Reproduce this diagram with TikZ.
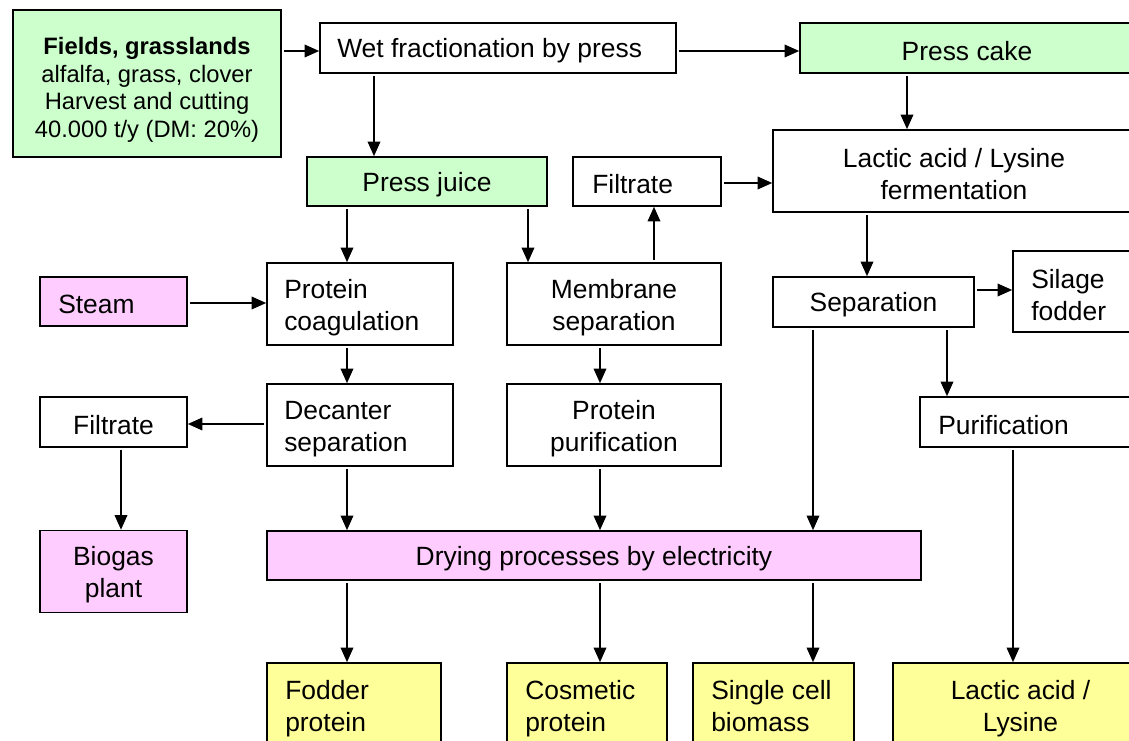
\documentclass[tikz,border=0pt]{standalone}
\usepackage{fontspec}
\setmainfont{Liberation Sans}
\usetikzlibrary{arrows.meta}
\definecolor{gr}{HTML}{CCFFCC}
\definecolor{pk}{HTML}{FFCCFF}
\definecolor{yl}{HTML}{FFFF99}
\newcommand{\mainsz}{\fontsize{19.8pt}{23.8pt}\selectfont}
\newcommand{\fieldsz}{\fontsize{17.8pt}{20.8pt}\selectfont}
\tikzset{
  bx/.style={draw=black, line width=1.2pt, rectangle, inner sep=0pt},
  tc/.style={inner sep=0pt, font=\mainsz, align=center, yshift=-2.25pt},
  tl/.style={inner sep=0pt, font=\mainsz, align=left, anchor=west, yshift=-2.25pt},
  arr/.style={line width=1.2pt, -{Triangle[length=11pt,width=9.5pt]}, shorten <=2pt},
}
\begin{document}
\begin{tikzpicture}[x=0.75pt,y=-0.75pt]
\useasboundingbox (0,0) rectangle (1129,741);
\fill[white] (0,0) rectangle (1129,741);
\clip (0,0) rectangle (1129,741);
% columns and rows
\foreach \c in {121,347,374,528,600,654,813,867,907,947,1013}{\coordinate (x\c) at (\c,0);}
\foreach \r in {51,183,290,303,424}{\coordinate (y\r) at (0,\r);}
% boxes
\node[bx, fill=gr, minimum width=201pt, minimum height=110.25pt] (fields) at (147,83.5) {};
\node[bx, fill=white, minimum width=267pt, minimum height=37.5pt] (wet) at (498,48) {};
\node[bx, fill=gr, minimum width=250.5pt, minimum height=37.5pt] (cake) at (967,48) {};
\node[bx, fill=gr, minimum width=180pt, minimum height=36.75pt] (juice) at (427,181.5) {};
\node[bx, fill=white, minimum width=111pt, minimum height=36.75pt] (filt1) at (647,181.5) {};
\node[bx, fill=white, minimum width=271.5pt, minimum height=61.5pt] (ferm) at (954,171) {};
\node[bx, fill=pk, minimum width=110.25pt, minimum height=36.75pt] (steam) at (113.5,301.5) {};
\node[bx, fill=white, minimum width=139.5pt, minimum height=61.5pt] (coag) at (360,304) {};
\node[bx, fill=white, minimum width=160.5pt, minimum height=61.5pt] (memb) at (614,304) {};
\node[bx, fill=white, minimum width=150.75pt, minimum height=37.5pt] (sep) at (873.5,302) {};
\node[bx, fill=white, minimum width=97.5pt, minimum height=60.75pt] (silage) at (1078,291.5) {};
\node[bx, fill=white, minimum width=110.25pt, minimum height=37.5pt] (filt2) at (113.5,422) {};
\node[bx, fill=white, minimum width=139.5pt, minimum height=61.5pt] (dec) at (360,425) {};
\node[bx, fill=white, minimum width=160.5pt, minimum height=61.5pt] (ppur) at (614,425) {};
\node[bx, fill=white, minimum width=165pt, minimum height=37.5pt] (pur) at (1030,422) {};
\node[bx, fill=pk, minimum width=110.25pt, minimum height=61.5pt] (biogas) at (113.5,571.5) {};
\node[bx, fill=pk, minimum width=490.5pt, minimum height=36.75pt] (dry) at (594,555.5) {};
\node[bx, fill=yl, minimum width=130.5pt, minimum height=61.5pt] (fodder) at (354,704) {};
\node[bx, fill=yl, minimum width=120pt, minimum height=61.5pt] (cosm) at (587,704) {};
\node[bx, fill=yl, minimum width=120.75pt, minimum height=61.5pt] (single) at (773.5,704) {};
\node[bx, fill=yl, minimum width=191.25pt, minimum height=61.5pt] (lactic) at (1020.5,704) {};
% texts
\node[tc, font=\fieldsz] (t-fields) at (147,87) {\textbf{Fields, grasslands}\\alfalfa, grass, clover\\Harvest and cutting\\40.000 t/y (DM: 20\%)};
\node[tl] (t-wet) at (337,48) {Wet fractionation by press};
\node[tc] (t-cake) at (cake) {Press cake};
\node[tc] (t-juice) at (juice) {Press juice};
\node[tl] (t-filt1) at (592,181.5) {Filtrate};
\node[tc] (t-ferm) at (ferm) {Lactic acid / Lysine\\fermentation};
\node[tl] (t-steam) at (58,301.5) {Steam};
\node[tl] (t-coag) at (284,305) {Protein\\coagulation};
\node[tc] (t-memb) at (614,305) {Membrane\\separation};
\node[tc] (t-sep) at (sep) {Separation};
\node[tl] (t-silage) at (1031,292) {Silage\\fodder};
\node[tc] (t-filt2) at (filt2) {Filtrate};
\node[tl] (t-dec) at (284,426) {Decanter\\separation};
\node[tc] (t-ppur) at (614,426) {Protein\\purification};
\node[tl] (t-pur) at (938,422) {Purification};
\node[tc] (t-biogas) at (113.5,572) {Biogas\\plant};
\node[tc] (t-dry) at (dry) {Drying processes by electricity};
\node[tl] (t-fodder) at (285,706) {Fodder\\protein};
\node[tl] (t-cosm) at (525,706) {Cosmetic\\protein};
\node[tl] (t-single) at (711,703) {Single cell\\biomass};
\node[tc] (t-lactic) at (1020.5,706) {Lactic acid /\\Lysine};
% connectors
\draw[arr] (fields.east |- y51) -- (wet.west |- y51);
\draw[arr] (wet.east |- y51) -- (cake.west |- y51);
\draw[arr] (x374 |- wet.south) -- (x374 |- juice.north);
\draw[arr] (x907 |- cake.south) -- (x907 |- ferm.north);
\draw[arr] (filt1.east |- y183) -- (ferm.west |- y183);
\draw[arr] (x347 |- juice.south) -- (x347 |- coag.north);
\draw[arr] (x528 |- juice.south) -- (x528 |- memb.north);
\draw[arr] (x654 |- memb.north) -- (x654 |- filt1.south);
\draw[arr] (steam.east |- y303) -- (coag.west |- y303);
\draw[arr] (x867 |- ferm.south) -- (x867 |- sep.north);
\draw[arr] (sep.east |- y290) -- (silage.west |- y290);
\draw[arr] (x347 |- coag.south) -- (x347 |- dec.north);
\draw[arr] (x600 |- memb.south) -- (x600 |- ppur.north);
\draw[arr] (dec.west |- y424) -- (filt2.east |- y424);
\draw[arr] (x947 |- sep.south) -- (x947 |- pur.north);
\draw[arr] (x813 |- sep.south) -- (x813 |- dry.north);
\draw[arr] (x121 |- filt2.south) -- (x121 |- biogas.north);
\draw[arr] (x347 |- dec.south) -- (x347 |- dry.north);
\draw[arr] (x600 |- ppur.south) -- (x600 |- dry.north);
\draw[arr] (x347 |- dry.south) -- (x347 |- fodder.north);
\draw[arr] (x600 |- dry.south) -- (x600 |- cosm.north);
\draw[arr] (x813 |- dry.south) -- (x813 |- single.north);
\draw[arr] (x1013 |- pur.south) -- (x1013 |- lactic.north);
\end{tikzpicture}
\end{document}
